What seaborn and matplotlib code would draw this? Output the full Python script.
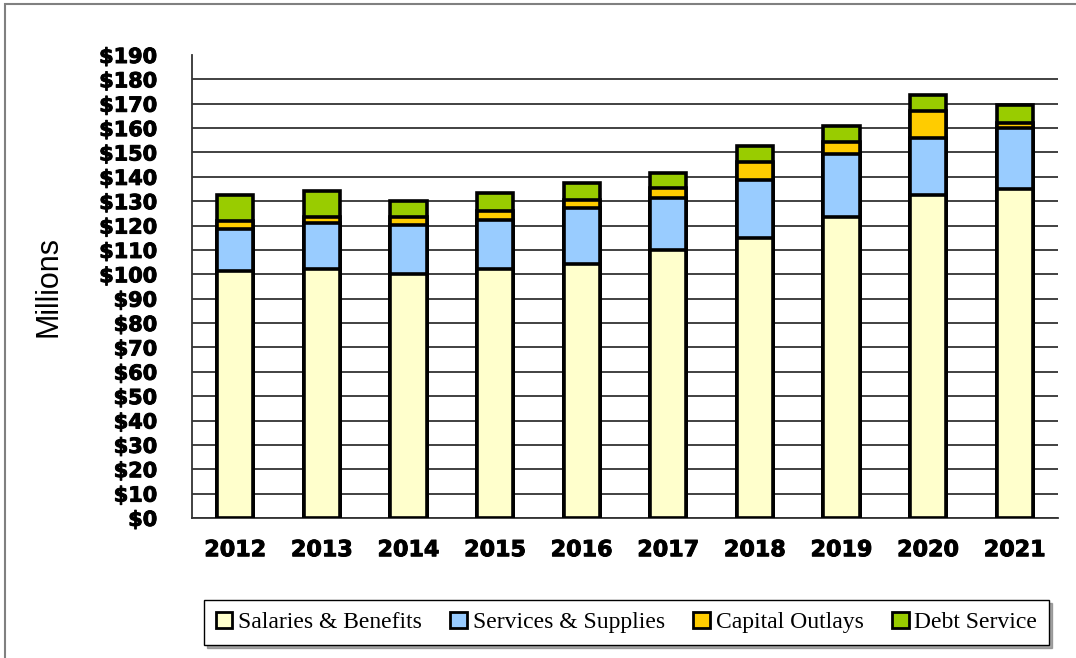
import numpy as np
import pandas as pd
import matplotlib
matplotlib.use("Agg")
import matplotlib.pyplot as plt
import matplotlib.patheffects as pe
from matplotlib.patches import Patch, Rectangle
import seaborn as sns

years = ["2012", "2013", "2014", "2015", "2016", "2017", "2018", "2019", "2020", "2021"]
salaries = [101.2, 102.0, 100.3, 102.0, 104.2, 109.9, 114.9, 123.7, 132.5, 135.0]
services = [17.4, 19.1, 19.9, 20.1, 23.2, 21.6, 24.0, 25.7, 23.4, 24.9]
capital = [3.4, 2.5, 3.4, 4.0, 3.3, 4.1, 7.3, 4.9, 11.1, 2.3]
debt = [10.6, 10.6, 6.5, 7.4, 6.8, 5.8, 6.6, 6.6, 6.6, 7.3]

series_names = ["Salaries & Benefits", "Services & Supplies", "Capital Outlays", "Debt Service"]
series_colors = ["#FFFFCC", "#99CCFF", "#FFCC00", "#99CC00"]
y_ticks = list(range(0, 200, 10))

df = pd.DataFrame({
    "year": years,
    "Salaries & Benefits": salaries,
    "Services & Supplies": services,
    "Capital Outlays": capital,
    "Debt Service": debt,
})
# cumulative tops for stacking, drawn from the tallest down
cum = df[series_names].cumsum(axis=1)

sns.set_style("white")
plt.rcParams["font.family"] = ["Liberation Sans", "DejaVu Sans"]

fig = plt.figure(figsize=(10.76, 6.58), dpi=100)
ax = fig.add_axes([0.1784, 0.2128, 0.9833 - 0.1784, 0.9164 - 0.2128])

for name, color in reversed(list(zip(series_names, series_colors))):
    sns.barplot(x=df["year"], y=cum[name], color=color, width=0.42,
                edgecolor="black", linewidth=2.6, saturation=1, ax=ax, zorder=3)

tick_font = {"family": "DejaVu Sans", "weight": "bold", "color": "black"}
heavy = [pe.withStroke(linewidth=0.7, foreground="black")]
ax.set_ylim(0, 190)
ax.set_xlim(-0.5, 9.5)
ax.set_yticks(y_ticks)
ax.set_yticklabels([f"${v}" for v in y_ticks], fontsize=15, **tick_font)
ax.set_xticks(range(len(years)))
ax.set_xticklabels(years, fontsize=16, **tick_font)
for lab in ax.get_xticklabels() + ax.get_yticklabels():
    lab.set_path_effects(heavy)
ax.set_xticks(np.arange(-0.5, 10, 1), minor=True)
ax.tick_params(axis="x", which="major", length=0, pad=16)
ax.tick_params(axis="x", which="minor", length=6, width=1.2, color="#333333", direction="out")
ax.tick_params(axis="y", length=8, width=1.2, color="#333333", direction="out", pad=17)
ax.set_xlabel("")
ax.set_ylabel("Millions", fontsize=22, labelpad=26, color="black")

ax.yaxis.grid(True, color="#333333", linewidth=1.3, zorder=0)
ax.get_ygridlines()[-1].set_visible(False)
ax.set_axisbelow(True)
ax.spines[["top", "right"]].set_visible(False)
for s in ["left", "bottom"]:
    ax.spines[s].set_color("#333333")
    ax.spines[s].set_linewidth(1.3)

handles = [Patch(facecolor=c, edgecolor="black", linewidth=2) for c in series_colors]
leg = fig.legend(handles, series_names, loc="center", bbox_to_anchor=(0.5823, 0.054),
                 ncol=4, frameon=True, fancybox=False, shadow={"color": "gray", "alpha": 0.7},
                 prop={"family": "Liberation Serif", "size": 17},
                 handlelength=0.7, handleheight=0.7, handletextpad=0.25,
                 columnspacing=1.2, borderpad=0.5)
leg.get_frame().set_edgecolor("black")
leg.get_frame().set_linewidth(1)
for t in leg.get_texts():
    t.set_color("black")

fig.add_artist(Rectangle((0.0046, -0.1), 1.2, 0.9939 + 0.1, transform=fig.transFigure,
                         fill=False, edgecolor="#808080", linewidth=1.5))

fig.savefig("out.png", dpi=100)
